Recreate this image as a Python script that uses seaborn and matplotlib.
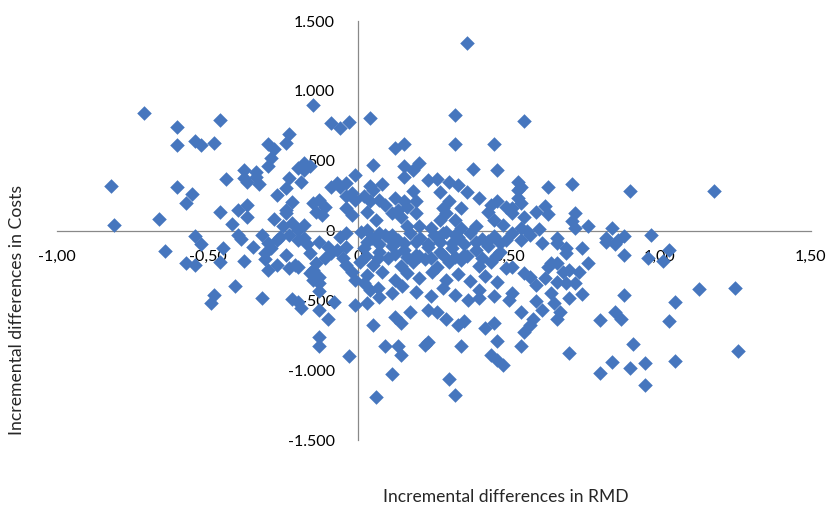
import pandas as pd
import seaborn as sns
import matplotlib.pyplot as plt

# values, grouped by area of the plot
left_rmd = [-0.71, -0.82, -0.81, -0.66, -0.64, -0.60, -0.60, -0.60, -0.57, -0.55,
            -0.54, -0.52, -0.48, -0.46, -0.54, -0.52, -0.57, -0.54, -0.46, -0.44,
            -0.42, -0.45, -0.46, -0.48, -0.49, -0.41, -0.40, -0.39, -0.38, -0.40,
            -0.37, -0.37, -0.38, -0.38, -0.37, -0.34, -0.33, -0.34, -0.35, -0.32,
            -0.32, -0.30, -0.31, -0.29, -0.30, -0.30, -0.28, -0.27, -0.28, -0.27,
            -0.27, -0.24, -0.23, -0.24, -0.23, -0.24, -0.22, -0.25, -0.24, -0.23,
            -0.21, -0.22, -0.24, -0.31, -0.30, -0.29, -0.20, -0.26]
left_costs = [840, 320, 40, 80, -150, 740, 610, 310, 200, 265,
              640, 610, 630, 790, -40, -100, -235, -245, 135, 370,
              50, -125, -225, -460, -520, -395, -30, -60, -215, 150,
              185, 95, 435, 375, 350, 420, 335, 385, -120, -35,
              -485, -285, -205, 520, 460, 620, 585, 255, 80, -70,
              -250, 305, 375, 625, 690, 150, 205, 30, -175, -270,
              -245, -490, 125, -160, -90, -125, -260, -45]

mid_left_rmd = [-0.20, -0.19, -0.18, -0.15, -0.16, -0.18, -0.19, -0.16, -0.15, -0.13,
                -0.13, -0.13, -0.10, -0.09, -0.06, -0.03, -0.03, -0.09, -0.07, -0.06,
                -0.04, -0.08, -0.01, -0.15, -0.13, -0.11, -0.14, -0.12, -0.04, -0.02,
                -0.01, -0.04, -0.02, -0.22, -0.20, -0.18, -0.04, -0.23, -0.20, -0.18,
                -0.17, -0.16, -0.13, -0.10, -0.11, -0.09, -0.15, -0.14, -0.13, -0.13,
                -0.06, -0.04, -0.05, -0.04, -0.02, -0.01, -0.07, -0.20, -0.13, -0.01]
mid_left_costs = [445, 350, 485, 900, 460, 435, -555, -305, -355, -760,
                  -830, -570, -630, 770, 735, 780, -900, 315, 340, 315,
                  340, -510, 395, 195, 220, 170, 135, 110, 245, 270,
                  220, 160, 110, 55, 5, 40, -20, -30, -65, -55,
                  -100, -160, -80, -115, -200, -160, -280, -235, -330, -375,
                  -45, -115, -200, -245, -295, -355, -140, -510, -435, -530]

top_mid_rmd = [0.36, 0.04, 0.32, 0.32, 0.45, 0.12, 0.15, 0.05, 0.15, 0.18,
               0.20, 0.38, 0.46, 0.15, 0.08, 0.04, 0.05, 0.23, 0.26, 0.30,
               0.33, 0.18, 0.27, 0.36, 0.40, 0.49, 0.02, 0.04, 0.07, 0.09,
               0.12, 0.15, 0.16, 0.19, 0.30, 0.28, 0.29, 0.34, 0.44, 0.46,
               0.43, 0.03, 0.06, 0.11, 0.13, 0.14, 0.19, 0.27, 0.32, 0.34,
               0.39, 0.45, 0.48, 0.16, 0.20, 0.24, 0.28, 0.32, 0.03, 0.07,
               0.11]
top_mid_costs = [1340, 805, 825, 620, 620, 590, 620, 470, 465, 435,
                 485, 440, 435, 380, 330, 320, 290, 365, 370, 350,
                 325, 285, 275, 275, 230, 170, 245, 210, 220, 185,
                 230, 210, 170, 210, 210, 160, 125, 160, 185, 210,
                 135, 135, 75, 125, 150, 100, 125, 75, 75, 15,
                 30, 75, 40, 30, 30, 15, -20, -30, 5, -20,
                 -30]

dense_rmd = [0.01, 0.045, 0.09, 0.13, 0.17, 0.205, 0.25, 0.29, 0.33, 0.37, 0.41, 0.45, 0.49,
             0.02, 0.07, 0.11, 0.15, 0.19, 0.23, 0.27, 0.31, 0.35, 0.39, 0.43, 0.47,
             0.005, 0.05, 0.10, 0.14, 0.18, 0.22, 0.26, 0.30, 0.34, 0.40, 0.44, 0.49,
             0.03, 0.08, 0.12, 0.16, 0.20, 0.245, 0.29, 0.33, 0.37, 0.42, 0.46,
             0.065, 0.145, 0.19, 0.24, 0.28, 0.32, 0.365, 0.40, 0.45,
             0.03, 0.07, 0.11, 0.15, 0.19, 0.23, 0.27, 0.31, 0.35, 0.39, 0.43, 0.47,
             0.025, 0.065, 0.12, 0.16, 0.20, 0.24, 0.28, 0.32, 0.36, 0.41, 0.455]
dense_costs = [-10, -50, -30, -65, -15, -50, -35, -10, -45, -20, -60, -40, -65,
               -125, -155, -110, -140, -175, -115, -155, -125, -175, -140, -110, -155,
               -225, -245, -195, -255, -225, -205, -260, -225, -210, -255, -225, -265,
               -315, -295, -355, -305, -340, -295, -355, -310, -360, -325, -365,
               -410, -395, -440, -470, -410, -460, -495, -425, -470,
               -80, -95, -75, -90, -85, -100, -80, -90, -95, -85, -75, -90,
               -185, -200, -170, -190, -180, -195, -175, -190, -185, -200, -180]

low_mid_rmd = [0.05, 0.17, 0.12, 0.14, 0.02, 0.04, 0.03, 0.07, 0.11, 0.09,
               0.13, 0.14, 0.11, 0.06, 0.23, 0.22, 0.34, 0.30, 0.32, 0.29,
               0.33, 0.35, 0.42, 0.45, 0.46, 0.44, 0.46, 0.48, 0.40, 0.50,
               0.23, 0.26]
low_mid_costs = [-675, -585, -620, -660, -375, -425, -520, -475, -450, -830,
                 -830, -890, -1025, -1190, -795, -820, -825, -1060, -1180, -630,
                 -675, -645, -700, -660, -790, -890, -925, -965, -485, -495,
                 -570, -580]

right_rmd = [0.55, 0.53, 0.54, 0.53, 0.63, 0.71, 0.90, 0.53, 0.54, 0.51,
             0.51, 0.55, 0.59, 0.62, 0.63, 0.72, 0.71, 0.72, 0.76, 0.84,
             0.88, 0.82, 0.97, 0.54, 0.56, 0.60, 0.51, 0.66, 0.88, 0.88,
             0.80, 0.85, 0.87, 0.91, 0.70, 0.84, 0.80, 0.90, 0.95, 0.95,
             0.54, 0.55, 0.58, 0.57, 0.54, 0.51, 0.59, 0.61, 0.64, 0.65,
             0.67, 0.66, 0.70, 0.74, 0.66, 0.69, 0.72, 0.73, 0.76, 0.70,
             0.68, 0.62, 0.59, 0.55, 0.57, 0.64, 0.66, 0.63, 0.61, 0.66,
             0.69, 0.74, 0.82, 0.86, 0.96, 0.54, 0.57, 0.51, 0.69, 0.85]
right_costs = [785, 350, 315, 290, 315, 330, 280, 230, 195, 160,
               125, 100, 130, 175, 120, 125, 65, 15, 35, 20,
               -40, -55, -30, 15, -5, 10, -20, -55, -175, -460,
               -640, -585, -635, -810, -880, -940, -1020, -985, -950, -1105,
               -830, -730, -630, -675, -580, -450, -505, -570, -450, -520,
               -580, -630, -480, -455, -365, -375, -375, -300, -235, -280,
               -295, -340, -390, -305, -330, -235, -235, -260, -90, -90,
               -125, -125, -80, -65, -200, -65, -30, -260, -160, -100]

far_right_rmd = [1.01, 1.03, 1.13, 1.25, 1.05, 1.03, 1.26, 1.05, 1.18]
far_right_costs = [-220, -140, -420, -415, -515, -650, -865, -935, 280]

x_ticks = [-1.0, -0.5, 0.0, 0.5, 1.0, 1.5]
x_tick_labels = ["-1,00", "-0,50", "0", "0,50", "1,00", "1,50"]
y_ticks = [-1500, -1000, -500, 0, 500, 1000, 1500]
y_tick_labels = ["-1.500", "-1.000", "-500", "0", "500", "1.000", "1.500"]

df = pd.DataFrame({
    "rmd": left_rmd + mid_left_rmd + top_mid_rmd + dense_rmd + low_mid_rmd + right_rmd + far_right_rmd,
    "costs": left_costs + mid_left_costs + top_mid_costs + dense_costs + low_mid_costs + right_costs + far_right_costs,
})

sns.set_style("white")
plt.rcParams['font.family'] = ['Lato', 'DejaVu Sans']

fig = plt.figure(figsize=(8.29, 5.07), dpi=100)
ax = fig.add_axes([0.0684, 0.1321, 0.9096, 0.8264])

sns.scatterplot(data=df, x="rmd", y="costs", marker="D", s=55, color="#4676BE",
                linewidth=0, ax=ax, zorder=3)

ax.set_xlim(-1.0, 1.5)
ax.set_ylim(-1500, 1500)
ax.set_xticks(x_ticks)
ax.set_xticklabels(x_tick_labels)
ax.set_yticks(y_ticks)
ax.set_yticklabels(y_tick_labels)

for side in ["top", "right"]:
    ax.spines[side].set_visible(False)
for side in ["left", "bottom"]:
    ax.spines[side].set_position(("data", 0))
    ax.spines[side].set_color("#898989")
    ax.spines[side].set_linewidth(0.9)
    ax.spines[side].set_zorder(1)

ax.tick_params(axis="both", direction="out", length=4, width=0.9, color="#898989",
               labelsize=11.5, labelcolor="black")
ax.tick_params(axis="x", pad=10)
ax.tick_params(axis="y", pad=13)
ax.set_axisbelow(True)
ax.set_xlabel("")
ax.set_ylabel("")

fig.text(17 / 829, 1 - 310 / 507, "Incremental differences in Costs", rotation=90,
         ha="center", va="center", fontsize=12.7)
fig.text(506 / 829, 1 - 497 / 507, "Incremental differences in RMD",
         ha="center", va="center", fontsize=12.6)

fig.savefig("out.png", dpi=100)
